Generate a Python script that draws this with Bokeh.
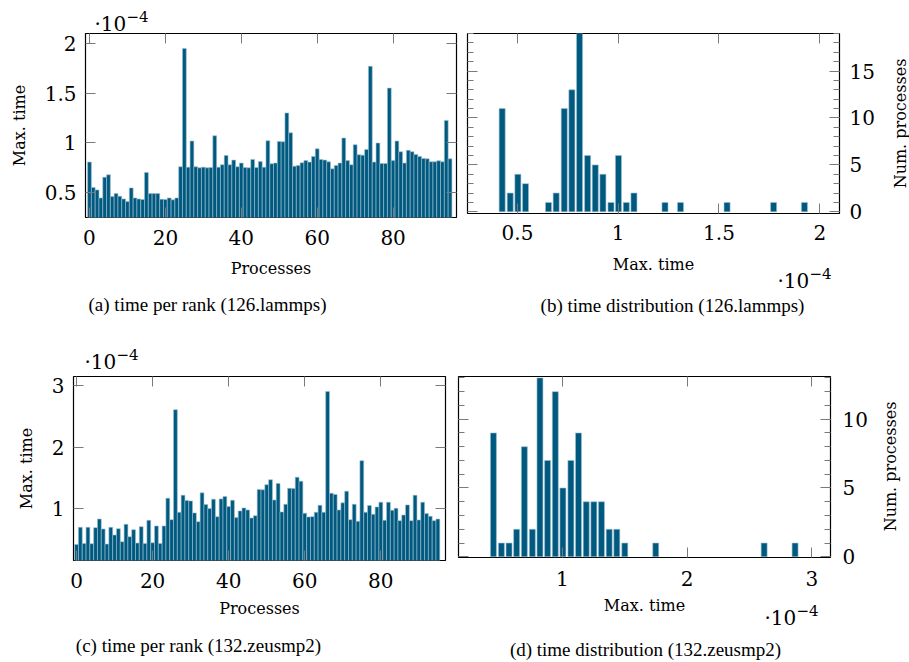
import math
from bokeh.plotting import figure
from bokeh.models import Range1d, FixedTicker, LinearAxis, Label, ColumnDataSource
from bokeh.layouts import column, row
from bokeh.embed import file_html
from bokeh.resources import INLINE

# ---------------- data (times in units of 1e-4) ----------------
lammps_time = [0.805, 0.549, 0.525, 0.444, 0.653, 0.677, 0.458, 0.488, 0.461, 0.434,
               0.407, 0.545, 0.444, 0.434, 0.428, 0.700, 0.488, 0.488, 0.488, 0.431,
               0.428, 0.444, 0.425, 0.444, 0.758, 1.950, 0.754, 1.017, 0.758, 0.747,
               0.754, 0.747, 0.750, 1.070, 0.754, 0.778, 0.872, 0.778, 0.825, 0.758,
               0.795, 0.750, 0.747, 0.832, 0.750, 0.810, 0.754, 1.020, 0.788, 0.795,
               1.013, 1.010, 1.300, 1.100, 0.764, 0.771, 0.798, 0.820, 0.805, 0.862,
               0.939, 0.832, 0.825, 0.808, 0.737, 0.771, 0.795, 1.047, 0.820, 0.778,
               0.980, 0.879, 0.875, 0.933, 1.770, 0.805, 0.997, 0.791, 0.791, 1.550,
               0.820, 1.017, 0.909, 0.795, 0.923, 0.909, 0.882, 0.862, 0.842, 0.838,
               0.808, 0.808, 0.818, 0.808, 1.225, 0.838]

zeusmp_time = [0.417, 0.695, 0.433, 0.695, 0.428, 0.690, 0.830, 0.668, 0.422, 0.695,
               0.570, 0.673, 0.460, 0.744, 0.542, 0.657, 0.439, 0.706, 0.433, 0.809,
               0.444, 0.717, 0.433, 0.717, 1.170, 0.820, 2.610, 0.940, 1.218, 1.130,
               1.125, 0.930, 0.787, 1.256, 1.065, 1.000, 1.153, 0.869, 1.158, 1.196,
               1.033, 1.136, 0.853, 0.962, 1.011, 0.978, 0.847, 0.885, 1.310, 1.305,
               1.390, 1.470, 1.140, 1.410, 0.946, 1.070, 1.330, 1.325, 1.510, 1.447,
               0.924, 0.864, 0.869, 0.940, 1.054, 0.940, 2.907, 1.250, 1.230, 0.978,
               1.093, 1.283, 0.820, 1.070, 0.793, 1.780, 0.940, 1.049, 0.907, 1.027,
               1.104, 0.809, 1.104, 0.973, 1.005, 0.804, 0.896, 1.060, 0.804, 1.218,
               0.815, 1.104, 0.918, 0.875, 0.804, 0.830]

lammps_bins = [0.424, 0.464, 0.502, 0.540, 0.654, 0.692, 0.732, 0.770, 0.808, 0.848,
               0.886, 0.924, 0.964, 1.001, 1.040, 1.078, 1.232, 1.309, 1.540, 1.771, 1.924]
lammps_counts = [11, 2, 4, 3, 1, 2, 11, 13, 19, 6, 5, 4, 1, 6, 1, 2, 1, 1, 1, 1, 1]

zeusmp_bins = [0.448, 0.512, 0.573, 0.634, 0.696, 0.760, 0.821, 0.882, 0.944, 1.005,
               1.069, 1.130, 1.192, 1.253, 1.314, 1.376, 1.437, 1.501, 1.749, 2.618, 2.866]
zeusmp_counts = [9, 1, 1, 2, 8, 2, 13, 7, 12, 5, 7, 9, 4, 4, 4, 2, 2, 1, 1, 1, 1]

rank_ticks = [0, 20, 40, 60, 80]
lammps_time_ticks = [0.5, 1, 1.5, 2]
zeusmp_time_ticks = [1, 2, 3]
lammps_count_ticks = [0, 5, 10, 15]
zeusmp_count_ticks = [0, 5, 10]

captions = ["(a) time per rank (126.lammps)", "(b) time distribution (126.lammps)",
            "(c) time per rank (132.zeusmp2)", "(d) time distribution (132.zeusmp2)"]
EXP_BASE = "\u00b710"
EXP_POW = "\u22124"

BAR = "#00597f"
EDGE = "#9fc0d2"
TICK = "#7a7a7a"
CM = "DejaVu Serif"
TIMES = "Liberation Serif"


def tick_label(v):
    return str(int(v)) if float(v).is_integer() else str(v)


def style_axis(ax, minor):
    ax.axis_line_color = None
    ax.major_tick_in = 10
    ax.major_tick_out = 0
    ax.minor_tick_in = 6
    ax.minor_tick_out = 0
    ax.major_tick_line_color = TICK
    ax.minor_tick_line_color = TICK if minor else None


class Panel:
    """A figure whose frame sits at a known place on the page."""

    def __init__(self, page_left, page_top, fw, fh, bl, br, bt, bb, xr, yr, xt, yt,
                 ymain="left", ymin_ticks=None):
        self.fl = page_left + bl
        self.ft = page_top + bt
        self.fw, self.fh, self.xr, self.yr = fw, fh, xr, yr
        p = figure(frame_width=fw, frame_height=fh, min_border_left=bl, min_border_right=br,
                   min_border_top=bt, min_border_bottom=bb, x_range=Range1d(*xr),
                   y_range=Range1d(*yr), output_backend="svg", toolbar_location=None,
                   y_axis_location=ymain)
        p.xgrid.visible = False
        p.ygrid.visible = False
        p.outline_line_color = "black"
        p.outline_line_width = 1.2
        p.background_fill_color = "white"
        p.border_fill_color = "white"
        xa = p.xaxis[0]
        ya = p.yaxis[0]
        xa.ticker = FixedTicker(ticks=xt)
        ya.ticker = FixedTicker(ticks=yt, minor_ticks=ymin_ticks or [])
        xa.major_label_overrides = {v: tick_label(v) for v in xt}
        ya.major_label_overrides = {v: tick_label(v) for v in yt}
        style_axis(xa, False)
        style_axis(ya, bool(ymin_ticks))
        for ax in (xa, ya):
            ax.major_label_text_font = CM
            ax.major_label_text_font_size = "20px"
            ax.major_label_text_color = "black"
            ax.axis_label_text_font = CM
            ax.axis_label_text_font_size = "16px"
            ax.axis_label_text_font_style = "normal"
            ax.axis_label_text_color = "black"
        # mirrored tick marks on the opposite sides
        mx = LinearAxis(ticker=FixedTicker(ticks=xt))
        my = LinearAxis(ticker=FixedTicker(ticks=yt, minor_ticks=ymin_ticks or []))
        style_axis(mx, False)
        style_axis(my, bool(ymin_ticks))
        for ax in (mx, my):
            ax.major_label_text_font_size = "1px"
            ax.major_label_text_color = None
            ax.major_label_standoff = 0
        p.add_layout(mx, "above")
        p.add_layout(my, "right" if ymain == "left" else "left")
        self.p, self.xa, self.ya = p, xa, ya

    def text(self, side, px, py, text, font, size, align="center", baseline="middle", angle=0.0):
        x = self.xr[0] + (px - self.fl) / self.fw * (self.xr[1] - self.xr[0])
        y = self.yr[0] + (self.ft + self.fh - py) / self.fh * (self.yr[1] - self.yr[0])
        self.p.add_layout(Label(x=x, y=y, text=text, text_font=font, text_font_size=size,
                                text_align=align, text_baseline=baseline, angle=angle,
                                text_color="black"), side)

    def exponent(self, side_base, side_pow, px, py):
        self.text(side_base, px, py, EXP_BASE, CM, "20px", align="left", baseline="alphabetic")
        self.text(side_pow, px + 32, py - 7, EXP_POW, CM, "15px", align="left", baseline="alphabetic")


# ---------------- (a) ----------------
A = Panel(0, 0, 371, 184, 85, 6, 33, 113, (-1.05, 96.7), (0.247, 2.1), rank_ticks, lammps_time_ticks)
A.p.vbar(x="x", top="top", bottom=0, width=1.0,
         source=ColumnDataSource(dict(x=list(range(len(lammps_time))), top=lammps_time)),
         fill_color=BAR, line_color=EDGE, line_width=0.6)
A.ya.axis_label = "Max. time"
A.ya.major_label_standoff = 9
A.ya.axis_label_standoff = 13
A.xa.axis_label = "Processes"
A.xa.major_label_standoff = 12
A.xa.axis_label_standoff = 11
A.exponent("above", "below", 94, 23)
A.text("below", 207, 304, captions[0], TIMES, "19px")

# ---------------- (b) ----------------
B = Panel(462, 0, 372, 180, 5, 70, 32, 118, (0.252, 2.098), (-0.18, 19.0), lammps_time_ticks,
          lammps_count_ticks, ymain="right", ymin_ticks=list(range(0, 20)))
B.p.vbar(x="x", top="top", bottom=0, width=0.03,
         source=ColumnDataSource(dict(x=lammps_bins, top=lammps_counts)),
         fill_color=BAR, line_color=EDGE, line_width=0.6)
B.ya.major_label_standoff = 10
B.xa.axis_label = "Max. time"
B.xa.major_label_standoff = 11
B.xa.axis_label_standoff = 12
B.text("right", 900, 122, "Num. processes", CM, "16px", angle=math.pi / 2)
B.exponent("below", "above", 777, 279)
B.text("below", 672, 304, captions[1], TIMES, "19px")

# ---------------- (c) ----------------
C = Panel(0, 330, 372, 184, 73, 6, 46, 102, (-0.8, 97.0), (0.155, 3.15), rank_ticks, zeusmp_time_ticks)
C.p.vbar(x="x", top="top", bottom=0, width=1.0,
         source=ColumnDataSource(dict(x=list(range(len(zeusmp_time))), top=zeusmp_time)),
         fill_color=BAR, line_color=EDGE, line_width=0.6)
C.ya.axis_label = "Max. time"
C.ya.major_label_standoff = 9
C.ya.axis_label_standoff = 13
C.xa.axis_label = "Processes"
C.xa.major_label_standoff = 12
C.xa.axis_label_standoff = 8
C.exponent("above", "below", 84, 361)
C.text("below", 198, 645, captions[2], TIMES, "19px")

# ---------------- (d) ----------------
D = Panel(451, 330, 372, 181, 7, 79, 42, 109, (0.168, 3.15), (-0.05, 13.1), zeusmp_time_ticks,
          zeusmp_count_ticks, ymain="right", ymin_ticks=list(range(0, 14)))
D.p.vbar(x="x", top="top", bottom=0, width=0.048,
         source=ColumnDataSource(dict(x=zeusmp_bins, top=zeusmp_counts)),
         fill_color=BAR, line_color=EDGE, line_width=0.6)
D.ya.major_label_standoff = 12
D.xa.axis_label = "Max. time"
D.xa.major_label_standoff = 13
D.xa.axis_label_standoff = 7
D.text("right", 890, 462, "Num. processes", CM, "16px", angle=math.pi / 2)
D.exponent("below", "above", 764, 613)
D.text("below", 645, 645, captions[3], TIMES, "19px")

layout = column(row(A.p, B.p), row(C.p, D.p))
open("out.html", "w").write(file_html(layout, INLINE))
